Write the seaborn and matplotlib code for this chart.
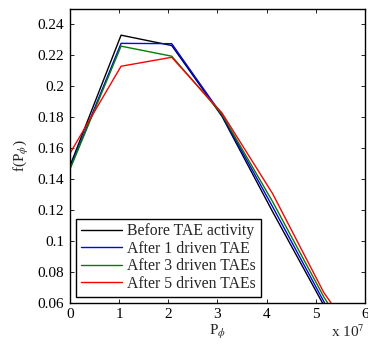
import numpy as np
import pandas as pd
import matplotlib
matplotlib.use("Agg")
import matplotlib.pyplot as plt
from matplotlib.ticker import FuncFormatter
import seaborn as sns

# Data (P_phi in units of 1e7 converted below)
p_phi = [0.0, 1.04, 2.07, 3.09, 4.12, 5.16, 6.19]
before = [0.1485, 0.2331, 0.2264, 0.1807, 0.1190, 0.0585, 0.000]
after1 = [0.1470, 0.2278, 0.2276, 0.1815, 0.1222, 0.0610, 0.004]
after3 = [0.1463, 0.2260, 0.2195, 0.1820, 0.1255, 0.0640, 0.012]
after5 = [0.1566, 0.2130, 0.2188, 0.1829, 0.1307, 0.0668, 0.020]
labels = ["Before TAE activity", "After 1 driven TAE",
          "After 3 driven TAEs", "After 5 driven TAEs"]
colors = ["#000000", "#0000ff", "#008000", "#ff0000"]

rows = []
for lab, vals in zip(labels, [before, after1, after3, after5]):
    for x, y in zip(p_phi, vals):
        rows.append({"P": x * 1e7, "f": y, "case": lab})
df = pd.DataFrame(rows)

sns.set_style("ticks")
plt.rcParams["font.family"] = ["Liberation Serif", "DejaVu Serif"]
plt.rcParams["mathtext.fontset"] = "stix"

fig = plt.figure(figsize=(3.68, 3.47), dpi=100)
ax = fig.add_axes([0.190, 0.127, 0.802, 0.847])

sns.lineplot(data=df, x="P", y="f", hue="case", hue_order=labels,
             palette=colors, linewidth=1.0, ax=ax, sort=False,
             estimator=None)

ax.set_xlim(0, 6e7)
ax.set_ylim(0.06, 0.25)
ax.set_xticks(np.arange(0, 7) * 1e7)
ax.xaxis.set_major_formatter(FuncFormatter(lambda v, p: f"{v/1e7:g}"))
ax.set_yticks([0.06, 0.08, 0.1, 0.12, 0.14, 0.16, 0.18, 0.2, 0.22, 0.24])
ax.yaxis.set_major_formatter(FuncFormatter(lambda v, p: f"{v:g}"))
ax.tick_params(direction="in", top=True, right=True, labelsize=11,
               length=3, width=0.6, colors="black", pad=4)
for s in ax.spines.values():
    s.set_visible(True)
    s.set_linewidth(1.0)
    s.set_color("black")

ax.set_xlabel(r"P$_\phi$", fontsize=11, labelpad=1)
ax.set_ylabel(r"f(P$_\phi$)", fontsize=11, labelpad=5)
fig.text(0.900, 0.028, r"x 10$^7$", fontsize=11)

leg = ax.legend(loc="lower left", fontsize=11.3, frameon=True, fancybox=False,
                edgecolor="black", handlelength=2.6, borderaxespad=0.4,
                labelspacing=0.1, handletextpad=0.35, borderpad=0.3)
leg.get_frame().set_linewidth(1.0)
leg.get_frame().set_alpha(1)
leg.set_title(None)

fig.savefig("out.png", dpi=100)
